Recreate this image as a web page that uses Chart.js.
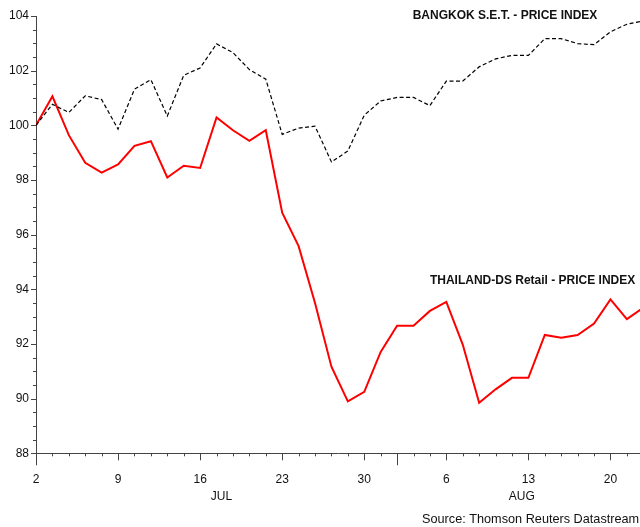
<!DOCTYPE html>
<html>
<head>
<meta charset="utf-8">
<script src="https://cdn.jsdelivr.net/npm/chart.js@4.4.0/dist/chart.umd.min.js"></script>
<style>
  html, body { margin: 0; padding: 0; background: #fff; }
  #wrap { width: 640px; height: 527px; position: relative; }
</style>
</head>
<body>
<div id="wrap"><canvas id="chart"></canvas></div>
<script>
// trading days (Jul 2 .. Aug 22)
const tradingDays = ['2','3','4','5','6','9','10','11','12','13','16','17','18','19','20',
    '23','24','25','26','27','30','31','1','2','3','6','7','8','9','10','13','14','15','16','17',
    '20','21','22'];
const months = ['JUL', 'AUG'];
const monthStart = [0, 22];
const monthMid = [11.3, 29.6];

const bangkok = [100.0, 100.77, 100.47, 101.08, 100.94, 99.86, 101.32, 101.67, 100.34, 101.83,
    102.1, 102.98, 102.66, 102.04, 101.69, 99.67, 99.9, 99.97, 98.66, 99.06,
    100.37, 100.89, 101.02, 101.02, 100.72, 101.62, 101.62, 102.14, 102.43, 102.56,
    102.56, 103.17, 103.17, 102.99, 102.95, 103.42, 103.7, 103.82];

const thailand = [100.0, 101.06, 99.64, 98.63, 98.27, 98.57, 99.25, 99.42, 98.09, 98.52,
    98.44, 100.29, 99.82, 99.43, 99.82, 96.8, 95.58, 93.5, 91.17, 89.9,
    90.25, 91.71, 92.67, 92.67, 93.21, 93.54, 91.98, 89.85, 90.34, 90.76,
    90.76, 92.33, 92.23, 92.33, 92.75, 93.63, 92.91, 93.33];

const FONT = '"Liberation Sans", Arial, sans-serif';
const axisColor = '#444';

function toPoints(arr) {
    return arr.map((v, i) => ({ x: i, y: v }));
}

// tick marks, month names, series names and source line
const decorations = {
    id: 'decorations',
    afterDraw(chart) {
        const ctx = chart.ctx;
        const x = chart.scales.x;
        const y = chart.scales.y;
        ctx.save();
        ctx.strokeStyle = axisColor;
        ctx.lineWidth = 1;
        ctx.beginPath();
        // y ticks every 0.5
        for (let v = 88; v <= 104; v += 0.5) {
            const py = Math.round(y.getPixelForValue(v)) + 0.5;
            const len = (v % 2 === 0) ? 5 : 3;
            ctx.moveTo(x.left - len, py);
            ctx.lineTo(x.left, py);
        }
        // x ticks every trading day
        for (let i = 0; i < tradingDays.length; i++) {
            const px = Math.round(x.getPixelForValue(i)) + 0.5;
            if (px > chart.chartArea.right + 1) break;
            let len = 3;
            if (i % 5 === 0) len = 7;
            if (monthStart.includes(i)) len = 12;
            ctx.moveTo(px, y.bottom);
            ctx.lineTo(px, y.bottom + len);
        }
        ctx.stroke();

        ctx.fillStyle = '#111';
        ctx.font = '12px ' + FONT;
        ctx.textAlign = 'center';
        ctx.textBaseline = 'middle';
        months.forEach((m, k) => {
            ctx.fillText(m, x.getPixelForValue(monthMid[k]), y.bottom + 43);
        });

        ctx.font = 'bold 12px ' + FONT;
        ctx.textAlign = 'left';
        ctx.fillText('BANGKOK S.E.T. - PRICE INDEX', x.getPixelForValue(22.95), y.getPixelForValue(104.0));
        ctx.fillText('THAILAND-DS Retail - PRICE INDEX', x.getPixelForValue(24.0), y.getPixelForValue(94.3));

        ctx.font = '12.7px ' + FONT;
        ctx.fillText('Source: Thomson Reuters Datastream', 422, 519);
        ctx.restore();
    }
};

new Chart(document.getElementById('chart'), {
    type: 'line',
    data: {
        datasets: [
            {
                label: 'BANGKOK S.E.T. - PRICE INDEX',
                data: toPoints(bangkok),
                borderColor: '#000',
                borderWidth: 1.2,
                borderDash: [4, 2.5],
                pointRadius: 0,
                tension: 0
            },
            {
                label: 'THAILAND-DS Retail - PRICE INDEX',
                data: toPoints(thailand),
                borderColor: '#ff0000',
                borderWidth: 2,
                pointRadius: 0,
                tension: 0
            }
        ]
    },
    options: {
        responsive: true,
        maintainAspectRatio: false,
        animation: false,
        layout: { padding: { top: 16, right: 0, left: 0, bottom: 0 } },
        plugins: {
            legend: { display: false },
            tooltip: { enabled: false }
        },
        scales: {
            x: {
                type: 'linear',
                min: 0,
                max: 36.8,
                grid: { display: false, drawTicks: false },
                border: { display: true, color: axisColor, width: 1 },
                afterBuildTicks: (scale) => {
                    scale.ticks = tradingDays.map((d, i) => ({ value: i })).filter(t => t.value <= 36);
                },
                afterFit: (scale) => {
                    scale.height = 73.7;
                    scale.paddingLeft = 0;
                    scale.paddingRight = 0;
                },
                ticks: {
                    autoSkip: false,
                    maxRotation: 0,
                    padding: 19,
                    color: '#111',
                    font: { family: FONT, size: 12 },
                    callback: (v) => (v % 5 === 0 ? tradingDays[v] : '')
                }
            },
            y: {
                min: 88,
                max: 104,
                grid: { display: false, drawTicks: false },
                border: { display: true, color: axisColor, width: 1 },
                afterFit: (scale) => { scale.width = 36; },
                ticks: {
                    stepSize: 0.5,
                    autoSkip: false,
                    padding: 7,
                    color: '#111',
                    font: { family: FONT, size: 12 },
                    callback: (v) => (v % 2 === 0 ? v : '')
                }
            }
        }
    },
    plugins: [decorations]
});
</script>
</body>
</html>
